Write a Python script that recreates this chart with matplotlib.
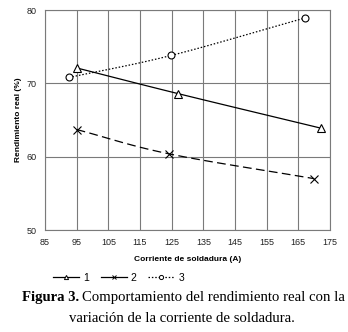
import numpy as np
import matplotlib
matplotlib.use("Agg")
import matplotlib.pyplot as plt
from matplotlib.lines import Line2D

# Data
s1_x = [95, 127, 172]
s1_y = [72.1, 68.6, 63.9]
s2_x = [95, 124, 170]
s2_y = [63.7, 60.4, 57.0]
s3_x = [92.6, 124.8, 167]
s3_y = [70.8, 73.8, 78.9]
series_labels = ["1", "2", "3"]
xticks = [85, 95, 105, 115, 125, 135, 145, 155, 165, 175]
yticks = [50, 60, 70, 80]


def smooth(x, y, n=40):
    x = np.asarray(x, float)
    y = np.asarray(y, float)
    P = np.column_stack([x, y])
    P = np.vstack([P[0] - (P[1] - P[0]), P, P[-1] + (P[-1] - P[-2])])
    out = []
    for i in range(1, len(P) - 2):
        p0, p1, p2, p3 = P[i - 1], P[i], P[i + 1], P[i + 2]
        t = np.linspace(0, 1, n)[:, None]
        pts = 0.5 * ((2 * p1) + (-p0 + p2) * t + (2 * p0 - 5 * p1 + 4 * p2 - p3) * t ** 2
                     + (-p0 + 3 * p1 - 3 * p2 + p3) * t ** 3)
        out.append(pts)
    out = np.vstack(out)
    return out[:, 0], out[:, 1]


fig = plt.figure(figsize=(3.48, 3.32), dpi=100)
ax = fig.add_axes([45 / 348, 1 - 230 / 332, 285 / 348, 220 / 332])

sans = "Liberation Sans"
grid_c = "#7a7a7a"

ax.set_xlim(85, 175)
ax.set_ylim(50, 80)
ax.set_xticks(xticks)
ax.set_yticks(yticks)
ax.grid(True, color=grid_c, linewidth=0.8)
ax.set_axisbelow(True)
for sp in ax.spines.values():
    sp.set_color(grid_c)
    sp.set_linewidth(0.8)
ax.tick_params(length=0, pad=6, labelsize=6.5, colors="#222222")
for lab in ax.get_xticklabels() + ax.get_yticklabels():
    lab.set_fontfamily(sans)

lw = 0.9
s2_ls = (0, (7, 3.5))
s3_ls = (0, (1.2, 1.5))
x, y = smooth(s1_x, s1_y)
ax.plot(x, y, color="black", lw=lw, ls="-")
ax.plot(s1_x, s1_y, ls="none", marker="^", ms=5.5, mfc="white", mec="black", mew=0.8)
x, y = smooth(s2_x, s2_y)
ax.plot(x, y, color="black", lw=lw, ls=s2_ls)
ax.plot(s2_x, s2_y, ls="none", marker="x", ms=6, mec="black", mew=0.8)
x, y = smooth(s3_x, s3_y)
ax.plot(x, y, color="black", lw=lw, ls=s3_ls)
ax.plot(s3_x, s3_y, ls="none", marker="o", ms=5, mfc="white", mec="black", mew=0.8)

ax.set_xlabel("Corriente de soldadura (A)", fontsize=6, fontweight="bold",
              fontfamily=sans, labelpad=6)
ax.set_ylabel("Rendimiento real (%)", fontsize=6, fontweight="bold",
              fontfamily=sans, labelpad=3)

handles = [
    Line2D([], [], color="black", lw=lw, ls="-", marker="^", ms=3, mfc="white", mec="black", mew=0.7),
    Line2D([], [], color="black", lw=lw, ls="-", marker="x", ms=3, mec="black", mew=0.7),
    Line2D([], [], color="black", lw=lw, ls=(0, (1.2, 1.5)), marker="o", ms=3, mfc="white", mec="black", mew=0.7),
]
fig.legend(handles, series_labels, loc="center left", bbox_to_anchor=(53 / 348, 1 - 278 / 332),
           ncol=3, frameon=False, prop={"family": sans, "size": 7.5},
           handlelength=2.5, handletextpad=0.4, columnspacing=1.1, borderaxespad=0, borderpad=0)

serif = "Liberation Serif"
fig.text(22 / 348, 1 - 298 / 332, "Figura 3.", fontsize=10.6, fontweight="bold",
         fontfamily=serif, va="center", ha="left")
fig.canvas.draw()
r = fig.canvas.get_renderer()
bb = fig.texts[0].get_window_extent(renderer=r)
fig.text((bb.x1 + 3) / 348, 1 - 298 / 332, "Comportamiento del rendimiento real con la",
         fontsize=10.6, fontfamily=serif, va="center", ha="left")
fig.text(182 / 348, 1 - 319 / 332, "variación de la corriente de soldadura.",
         fontsize=10.6, fontfamily=serif, va="center", ha="center")

fig.savefig("out.png", dpi=100)
